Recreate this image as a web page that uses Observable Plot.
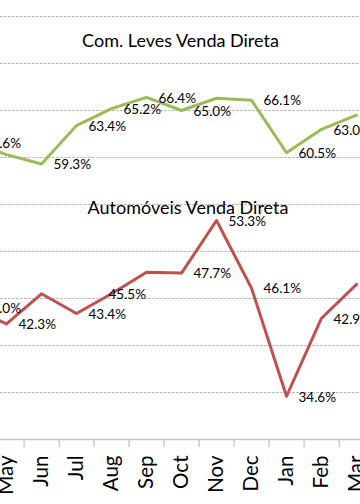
<!DOCTYPE html>
<html>
<head>
<meta charset="utf-8">
<script src="https://cdn.jsdelivr.net/npm/d3@7"></script>
<script src="https://cdn.jsdelivr.net/npm/@observablehq/plot@0.6"></script>
<style>
  html, body { margin: 0; padding: 0; background: #fff; }
  #wrap { width: 360px; height: 504px; overflow: hidden; position: relative; }
  #wrap svg { overflow: visible; }
</style>
</head>
<body>
<div id="wrap"></div>
<script>
// ---- data ----
const months = ["Apr", "May", "Jun", "Jul", "Aug", "Sep", "Oct", "Nov", "Dec", "Jan", "Feb", "Mar"];
const comLeves = [61.6, 60.3, 59.3, 63.4, 65.2, 66.4, 65.0, 66.3, 66.1, 60.5, 63.0, 64.5];
const automoveis = [44.0, 42.3, 45.5, 43.4, 45.5, 47.8, 47.7, 53.3, 46.1, 34.6, 42.9, 46.5];
// which points carry a data label in the reference
const comLevesLabelShown = [true, false, true, true, true, true, true, false, true, true, true, true];
const automoveisLabelShown = [true, true, false, true, true, false, true, true, true, true, true, true];
const gridValues = [35, 40, 45, 50, 55, 60, 65, 70, 75];
const titleComLeves = "Com. Leves Venda Direta";
const titleAutomoveis = "Automóveis Venda Direta";

const green = "#9bbb59";
const red = "#c0504d";
const font = "Lato, Carlito, Calibri, sans-serif";

const data = months.map((m, i) => ({
  month: m,
  com: comLeves[i],
  auto: automoveis[i],
  comLab: comLevesLabelShown[i],
  autoLab: automoveisLabelShown[i]
}));
const fmt = v => v.toFixed(1) + "%";

const chart = Plot.plot({
  width: 360,
  height: 504,
  marginTop: 0,
  marginBottom: 65,
  marginLeft: 0,
  marginRight: 0,
  style: { fontFamily: font, background: "#fff", overflow: "visible" },
  x: { type: "point", domain: months, range: [-29.7, 357.5], padding: 0, align: 0.5, axis: null },
  y: { domain: [30, 76.7], axis: null },
  marks: [
    Plot.ruleY(gridValues, { stroke: "#bdbdbd", strokeDasharray: "3,1", strokeWidth: 1 }),
    Plot.ruleY([30], { stroke: "#c4c4c4", strokeWidth: 1.3 }),
    Plot.axisX(months, { ticks: months, tickSize: 8, tickFormat: () => "", label: null, dx: 17.6, stroke: "#c4c4c4", strokeWidth: 1.3 }),
    Plot.text(months, {
      x: d => d, frameAnchor: "bottom", rotate: -90, textAnchor: "end", lineAnchor: "middle",
      dy: 16, fontSize: 20.5, fill: "#000"
    }),
    Plot.line(data, { x: "month", y: "com", stroke: green, strokeWidth: 3, strokeLinejoin: "round" }),
    Plot.line(data, { x: "month", y: "auto", stroke: red, strokeWidth: 3, strokeLinejoin: "round" }),
    Plot.text(data.filter(d => d.comLab), {
      x: "month", y: "com", text: d => fmt(d.com), textAnchor: "start", dx: 12, dy: 1, fontSize: 13.5, fill: "#000"
    }),
    Plot.text(data.filter(d => d.autoLab && d.month !== "Aug"), {
      x: "month", y: "auto", text: d => fmt(d.auto), textAnchor: "start", dx: 12, dy: 1, fontSize: 13.5, fill: "#000"
    }),
    Plot.text(data.filter(d => d.autoLab && d.month === "Aug"), {
      x: "month", y: "auto", text: d => fmt(d.auto), textAnchor: "start", dx: -3, dy: 1, fontSize: 13.5, fill: "#000"
    }),
    Plot.text([titleComLeves], { frameAnchor: "top", dy: 34, fontSize: 18, fill: "#000" }),
    Plot.text([titleAutomoveis], { frameAnchor: "top", dy: 201, dx: 7.5, fontSize: 18, fill: "#000" })
  ]
});
document.getElementById("wrap").appendChild(chart);
</script>
</body>
</html>
